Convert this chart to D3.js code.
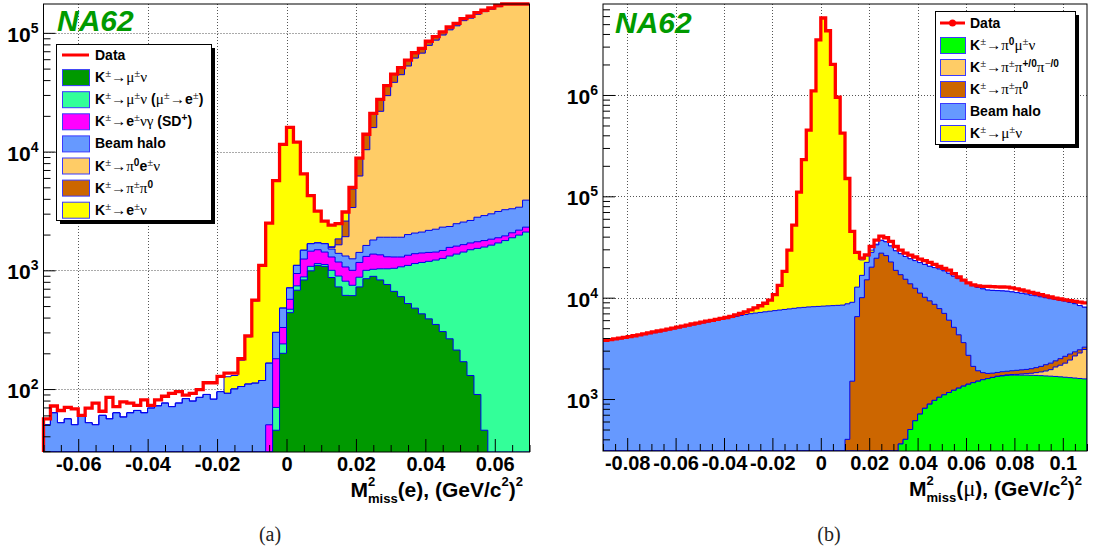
<!DOCTYPE html>
<html>
<head>
<meta charset="utf-8">
<script src="https://cdn.jsdelivr.net/npm/d3@7"></script>
<style>
  body { margin: 0; background: #fff; }
  svg { display: block; }
</style>
</head>
<body>
<svg id="chart" width="1096" height="554"></svg>
<script>
// NA62 missing-mass plots, (a) electron hypothesis, (b) muon hypothesis.
// Stacked MC components (ROOT-like filled histograms) with data on top.

// ---------- panel (a): M2miss(e), 70 bins of 0.002 from -0.07 ----------
const aRange = [-0.07, 0.07];
const aBinWidth = 0.002;
const aYRange = [29.5, 175000];

const aData = [
  56, 72, 66, 70, 68, 60, 69, 76, 65, 85,
  71, 78, 76, 73, 81, 73, 81, 87, 92, 95,
  89, 92, 99, 113, 113, 128, 136, 136, 180, 280,
  560, 1100, 2500, 5700, 11500, 16000, 12000, 6500, 4250, 3150,
  2600, 2400, 2470, 3100, 5000, 8800, 14000, 21000, 27500, 36000,
  45000, 51000, 59000, 68000, 74000, 85000, 93000, 102000, 112000, 120000,
  132000, 138000, 148000, 155000, 162000, 170000, 178000, 185000, 192000, 198000
];
// K -> mu nu
const aKmunu = [
  0, 0, 0, 0, 0, 0, 0, 0, 0, 0,
  0, 0, 0, 0, 0, 0, 0, 0, 0, 0,
  0, 0, 0, 0, 0, 0, 0, 0, 0, 0,
  0, 0, 0, 45, 200, 440, 680, 830, 990, 1100,
  1080, 870, 725, 615, 612, 725, 850, 890, 830, 760,
  665, 600, 525, 480, 430, 390, 350, 305, 265, 213,
  170, 130, 90, 45, 0, 0, 0, 0, 0, 0
];
// K -> mu nu (mu -> e)
const aMuToE = [
  0, 0, 0, 0, 0, 0, 0, 0, 0, 0,
  0, 0, 0, 0, 0, 0, 0, 0, 0, 0,
  0, 0, 0, 0, 0, 0, 0, 0, 0, 0,
  0, 0, 0, 25, 40, 30, 60, 50, 90, 40,
  40, 130, 170, 195, 136, 150, 150, 130, 200, 270,
  375, 470, 575, 660, 735, 800, 870, 955, 1055, 1157,
  1255, 1360, 1440, 1525, 1630, 1700, 1780, 1880, 1980, 2100
];
// K -> e nu gamma (SD+)
const aSD = [
  0, 0, 0, 0, 0, 0, 0, 0, 0, 0,
  0, 0, 0, 0, 0, 0, 0, 0, 0, 0,
  0, 0, 0, 0, 0, 0, 0, 0, 0, 0,
  0, 0, 50, 110, 90, 100, 200, 365, 370, 350,
  305, 295, 280, 257, 252, 290, 310, 350, 320, 270,
  255, 225, 240, 240, 235, 225, 205, 210, 240, 230,
  220, 210, 210, 210, 200, 180, 170, 190, 200, 210
];
// beam halo
const aHalo = [
  50, 63, 52, 56, 50, 60, 52, 50, 60, 56,
  63, 58, 63, 66, 63, 69, 72, 76, 71, 76,
  83, 79, 85, 90, 82, 95, 92, 100, 105, 110,
  112, 118, 115, 120, 150, 140, 160, 230, 225, 210,
  250, 215, 215, 253, 250, 250, 310, 430, 550, 600,
  605, 605, 660, 680, 700, 755, 795, 840, 780, 870,
  905, 930, 1060, 1110, 1160, 1250, 1290, 1230, 1220, 1590
];
// K -> pi0 e nu
const aPi0enu = [
  0, 0, 0, 0, 0, 0, 0, 0, 0, 0,
  0, 0, 0, 0, 0, 0, 0, 0, 0, 0,
  0, 0, 0, 0, 0, 0, 0, 0, 0, 0,
  0, 0, 0, 0, 0, 0, 0, 0, 0, 0,
  0, 50, 250, 600, 2130, 4815, 8750, 14130, 19940, 27690,
  36400, 42520, 50580, 59220, 65390, 76290, 84580, 93540, 103660, 112130,
  124150, 130370, 140500, 147900, 155000, 163000, 171000, 178000, 185000, 190600
];
// K -> pi pi0
const aPipi0 = [
  0, 0, 0, 0, 0, 0, 0, 0, 0, 0,
  0, 0, 0, 0, 0, 0, 0, 0, 0, 0,
  0, 0, 0, 0, 0, 0, 0, 0, 0, 0,
  0, 0, 0, 0, 0, 0, 0, 0, 0, 0,
  0, 20, 200, 680, 1470, 2570, 3630, 5070, 5660, 6410,
  6700, 6580, 6420, 6720, 6510, 6540, 6200, 6150, 6000, 5400,
  5300, 5000, 4700, 4200, 4000, 3900, 3760, 3700, 3600, 3500
];
// K -> e nu
const aEnu = [
  0, 0, 0, 0, 0, 0, 0, 0, 0, 0,
  0, 0, 0, 0, 0, 0, 0, 0, 0, 0,
  0, 0, 0, 0, 0, 0, 35, 30, 70, 165,
  440, 980, 2335, 5400, 11020, 15290, 10900, 5025, 2575, 1450,
  925, 820, 630, 500, 150, 0, 0, 0, 0, 0,
  0, 0, 0, 0, 0, 0, 0, 0, 0, 0,
  0, 0, 0, 0, 0, 0, 0, 0, 0, 0
];
const aLabels = [
  "Data",
  "K^{±}→μ^{±}ν",
  "K^{±}→μ^{±}ν (μ^{±}→e^{±})",
  "K^{±}→e^{±}νγ (SD^{+})",
  "Beam halo",
  "K^{±}→π^{0}e^{±}ν",
  "K^{±}→π^{±}π^{0}",
  "K^{±}→e^{±}ν"
];

// ---------- panel (b): M2miss(mu), 100 bins of 0.002 from -0.09 ----------
const bRange = [-0.09, 0.11];
const bBinWidth = 0.002;
const bYRange = [307, 7.9e6];

const bData = [
  3800, 3860, 3930, 3990, 4060, 4120, 4210, 4300, 4400, 4490,
  4590, 4690, 4790, 4900, 5010, 5130, 5250, 5370, 5500, 5620,
  5740, 5860, 5980, 6110, 6240, 6370, 6530, 6760, 7000, 7240,
  7590, 7940, 8320, 8810, 9440, 10700, 13200, 18200, 29500, 52000,
  110000, 230000, 450000, 1100000, 3500000, 5750000, 4300000, 2000000, 950000, 420000,
  150000, 45000, 28000, 24600, 26500, 32000, 37000, 40500, 39000, 36000,
  32000, 29500, 27500, 26300, 25200, 24000, 23200, 22300, 21300, 20300,
  19500, 18700, 17300, 16000, 14900, 14000, 13400, 13100, 12950, 12900,
  12850, 12800, 12750, 12700, 12500, 12200, 11900, 11600, 11300, 11000,
  10700, 10400, 10150, 9900, 9700, 9500, 9350, 9200, 9050, 8900
];
// K -> pi0 mu nu
const bPi0munu = [
  0, 0, 0, 0, 0, 0, 0, 0, 0, 0,
  0, 0, 0, 0, 0, 0, 0, 0, 0, 0,
  0, 0, 0, 0, 0, 0, 0, 0, 0, 0,
  0, 0, 0, 0, 0, 0, 0, 0, 0, 0,
  0, 0, 0, 0, 0, 0, 0, 0, 0, 0,
  0, 0, 0, 0, 0, 0, 0, 0, 0, 0,
  0, 360, 400, 500, 610, 710, 810, 890, 970, 1040,
  1100, 1160, 1220, 1280, 1340, 1400, 1450, 1500, 1550, 1590,
  1630, 1670, 1690, 1710, 1720, 1720, 1720, 1720, 1715, 1710,
  1700, 1690, 1680, 1670, 1655, 1640, 1625, 1610, 1595, 1580
];
// K -> pi pi pi
const bPipipi = [
  0, 0, 0, 0, 0, 0, 0, 0, 0, 0,
  0, 0, 0, 0, 0, 0, 0, 0, 0, 0,
  0, 0, 0, 0, 0, 0, 0, 0, 0, 0,
  0, 0, 0, 0, 0, 0, 0, 0, 0, 0,
  0, 0, 0, 0, 0, 0, 0, 0, 0, 0,
  0, 0, 0, 0, 0, 0, 0, 0, 0, 0,
  0, 0, 0, 0, 0, 0, 0, 0, 0, 0,
  0, 0, 0, 0, 0, 0, 0, 0, 0, 0,
  5, 10, 15, 20, 25, 30, 45, 60, 80, 110,
  150, 200, 270, 400, 500, 620, 800, 1050, 1250, 1500
];
// K -> pi pi0
const bPipi0 = [
  0, 0, 0, 0, 0, 0, 0, 0, 0, 0,
  0, 0, 0, 0, 0, 0, 0, 0, 0, 0,
  0, 0, 0, 0, 0, 0, 0, 0, 0, 0,
  0, 0, 0, 0, 0, 0, 0, 0, 0, 0,
  0, 0, 0, 0, 0, 0, 0, 0, 0, 0,
  400, 1500, 6500, 10000, 15000, 20000, 24500, 27500, 26000, 22500,
  18600, 16500, 14800, 13200, 11790, 10390, 9290, 8410, 7630, 6760,
  5900, 4840, 3880, 3020, 2260, 1300, 650, 400, 270, 200,
  165, 150, 155, 150, 155, 170, 175, 180, 195, 220,
  250, 290, 310, 310, 345, 380, 355, 260, 215, 170
];
// beam halo
const bHalo = [
  3720, 3790, 3860, 3920, 3990, 4050, 4140, 4230, 4320, 4410,
  4500, 4600, 4700, 4810, 4920, 5030, 5150, 5270, 5390, 5510,
  5630, 5740, 5860, 5980, 6100, 6220, 6360, 6520, 6680, 6820,
  6950, 7050, 7150, 7250, 7350, 7450, 7550, 7650, 7750, 7850,
  7950, 8020, 8100, 8150, 8200, 8250, 8300, 8350, 8400, 8450,
  8300, 7500, 6200, 6600, 7300, 8000, 8700, 9300, 9600, 9900,
  10400, 10300, 10300, 10500, 10800, 11100, 11200, 11100, 11200, 11400,
  11400, 11400, 11200, 11100, 11300, 11200, 11000, 10700, 10400, 10100,
  10000, 9900, 9800, 9700, 9500, 9300, 9100, 8900, 8600, 8400,
  8100, 7800, 7500, 7200, 6900, 6600, 6200, 5800, 5300, 4800
];
// K -> mu nu
const bMunu = [
  0, 0, 0, 0, 0, 0, 0, 0, 0, 0,
  0, 0, 0, 0, 0, 0, 0, 0, 0, 0,
  0, 0, 0, 0, 0, 0, 0, 150, 320, 420,
  640, 890, 1170, 1560, 2090, 3250, 5650, 10550, 21750, 44150,
  102050, 221980, 441900, 1091850, 3491800, 5741750, 4291700, 1991650, 941600, 411550,
  141200, 36000, 15300, 7000, 3500, 1500, 500, 0, 0, 0,
  0, 0, 0, 0, 0, 0, 0, 0, 0, 0,
  0, 0, 0, 0, 0, 0, 0, 0, 0, 0,
  0, 0, 0, 0, 0, 0, 0, 0, 0, 0,
  0, 0, 0, 0, 0, 0, 0, 0, 0, 0
];
const bLabels = [
  "Data",
  "K^{±}→π^{0}μ^{±}ν",
  "K^{±}→π^{±}π^{+/0}π^{−/0}",
  "K^{±}→π^{±}π^{0}",
  "Beam halo",
  "K^{±}→μ^{±}ν"
];

// ---------- styles ----------
const FONT = "'Liberation Sans', Arial, Helvetica, sans-serif";
const SERIF = "'Liberation Serif', 'Times New Roman', serif";
const COLOR_DATA = "#ff0000";
const COLOR_OUTLINE = "#0000ee";
const COLOR_NA62 = "#009a00";
const SYMBOL_CHARS = "±→μνπγ−";

const svg = d3.select("#chart");

// Text with ^{..} / _{..} runs; greek letters and arrows set like ROOT's symbol font.
const richText = (parent, markup, opt) => {
  const tokens = [];
  for (let i = 0; i < markup.length;) {
    const head = markup.slice(i, i + 2);
    if (head === "^{" || head === "_{") {
      const j = markup.indexOf("}", i);
      const mode = head[0] === "^" ? "sup" : "sub";
      for (const ch of markup.slice(i + 2, j)) tokens.push({ ch, mode });
      i = j + 1;
    } else {
      tokens.push({ ch: markup[i], mode: "base" });
      i++;
    }
  }
  const groups = [];
  tokens.forEach((t) => {
    const sym = SYMBOL_CHARS.includes(t.ch);
    const last = groups[groups.length - 1];
    if (last && last.mode === t.mode && last.sym === sym) last.text += t.ch;
    else groups.push({ text: t.ch, mode: t.mode, sym });
  });

  const text = parent.append("text")
    .attr("x", opt.x)
    .attr("y", opt.y)
    .attr("text-anchor", opt.anchor || "start")
    .attr("font-family", FONT)
    .attr("fill", "#000");

  let shift = 0;
  let prev = null;
  groups.forEach((gr) => {
    const target = gr.mode === "sup" ? -opt.supShift : gr.mode === "sub" ? opt.subShift : 0;
    const size = (gr.mode === "base" ? opt.size : opt.size * opt.scale) * (gr.sym ? 1.08 : 1);
    const ts = text.append("tspan")
      .attr("font-size", size)
      .attr("font-weight", gr.sym ? "normal" : "bold")
      .attr("font-family", gr.sym ? SERIF : FONT)
      .attr("dy", target - shift)
      .text(gr.text);
    if (gr.mode === "sub" && prev && prev.mode === "sup") ts.attr("dx", -prev.width);
    gr.width = ts.node().getComputedTextLength();
    shift = target;
    prev = gr;
  });
  return text;
};

const drawPanel = (p) => {
  const g = svg.append("g");
  const n = p.series[0].length;

  const x = d3.scaleLinear().domain(p.xDomain).range([p.left, p.right]);
  const y = d3.scaleLog().domain(p.yDomain).range([p.bottom, p.top]).clamp(true);
  const yv = (v) => y(Math.max(v, p.yDomain[0] * 0.5));
  const edges = d3.range(n + 1).map((i) => p.xDomain[0] + i * p.binWidth);

  const clipId = "clip-" + p.id;
  g.append("clipPath").attr("id", clipId)
    .append("rect")
    .attr("x", p.left).attr("y", p.top)
    .attr("width", p.right - p.left).attr("height", p.bottom - p.top);

  // grid (dotted), drawn first so fills hide it
  const decades = d3.range(Math.ceil(Math.log10(p.yDomain[0])), Math.floor(Math.log10(p.yDomain[1])) + 1)
    .map((e) => Math.pow(10, e));
  const grid = g.append("g")
    .attr("stroke", "#555")
    .attr("stroke-width", 1)
    .attr("stroke-dasharray", "1,2");
  grid.selectAll("line.gx").data(p.xMajor).join("line")
    .attr("class", "gx")
    .attr("x1", (d) => Math.round(x(d)) + 0.5).attr("x2", (d) => Math.round(x(d)) + 0.5)
    .attr("y1", p.top).attr("y2", p.bottom);
  grid.selectAll("line.gy").data(decades).join("line")
    .attr("class", "gy")
    .attr("x1", p.left).attr("x2", p.right)
    .attr("y1", (d) => Math.round(y(d)) + 0.5).attr("y2", (d) => Math.round(y(d)) + 0.5);

  // stacked MC
  const rows = d3.range(n).map((i) => {
    const r = {};
    p.keys.forEach((k, j) => { r[k] = p.series[j][i]; });
    return r;
  });
  const stacked = d3.stack().keys(p.keys)(rows);

  const area = d3.area().curve(d3.curveStepAfter)
    .x((d) => x(d.x)).y0(p.bottom).y1((d) => yv(d.v));
  const step = d3.line().curve(d3.curveStepAfter)
    .x((d) => x(d.x)).y((d) => yv(d.v));

  const fills = g.append("g").attr("clip-path", "url(#" + clipId + ")");
  // ROOT THStack order: topmost cumulative first, lower ones painted over it
  stacked.slice().reverse().forEach((layer) => {
    const j = p.keys.indexOf(layer.key);
    const pts = layer.map((d, i) => ({ x: edges[i], v: d[1] }));
    pts.push({ x: edges[n], v: layer[n - 1][1] });
    fills.append("path")
      .attr("d", area(pts))
      .attr("fill", p.colors[j]);
    const outline = [{ x: edges[0], v: 0 }, ...pts, { x: edges[n], v: 0 }];
    fills.append("path")
      .attr("d", step(outline))
      .attr("fill", "none")
      .attr("stroke", COLOR_OUTLINE)
      .attr("stroke-width", 1);
  });

  // data
  const dataPts = p.data.map((v, i) => ({ x: edges[i], v }));
  dataPts.push({ x: edges[n], v: p.data[n - 1] });
  if (p.dataFromFloor) dataPts.unshift({ x: edges[0], v: 0 });
  g.append("path")
    .attr("d", step(dataPts))
    .attr("fill", "none")
    .attr("stroke", COLOR_DATA)
    .attr("stroke-width", 3.3)
    .attr("stroke-linejoin", "miter");

  // axes, ticks pointing into the frame
  const fmtX = (d) => (d === 0 ? "0" : String(Math.round(d * 100) / 100));
  const xMinor = d3.range(Math.round(p.xDomain[0] / 0.005), Math.round(p.xDomain[1] / 0.005) + 1)
    .filter((k) => k % 4 !== 0).map((k) => k * 0.005);

  g.append("g")
    .attr("transform", "translate(0," + p.bottom + ")")
    .call(d3.axisBottom(x).tickValues(xMinor).tickSizeInner(-7).tickSizeOuter(0).tickFormat(""))
    .call((a) => a.select(".domain").remove());
  g.append("g")
    .attr("transform", "translate(0," + p.bottom + ")")
    .call(d3.axisBottom(x).tickValues(p.xMajor).tickSizeInner(-13).tickSizeOuter(0).tickPadding(5).tickFormat(fmtX))
    .call((a) => a.select(".domain").remove())
    .attr("font-family", FONT)
    .attr("font-size", 20)
    .attr("font-weight", "bold")
    .call((a) => a.selectAll("text").attr("fill", "#000"));

  const yMinor = [];
  decades.concat([decades[0] / 10]).forEach((d) => {
    d3.range(2, 10).forEach((m) => {
      const v = m * d;
      if (v > p.yDomain[0] && v < p.yDomain[1]) yMinor.push(v);
    });
  });
  g.append("g")
    .attr("transform", "translate(" + p.left + ",0)")
    .call(d3.axisLeft(y).tickValues(yMinor).tickSizeInner(-7).tickSizeOuter(0).tickFormat(""))
    .call((a) => a.select(".domain").remove());
  g.append("g")
    .attr("transform", "translate(" + p.left + ",0)")
    .call(d3.axisLeft(y).tickValues(decades).tickSizeInner(-12).tickSizeOuter(0).tickFormat(""))
    .call((a) => a.select(".domain").remove());

  decades.forEach((d) => {
    const t = g.append("text")
      .attr("x", p.left - 5)
      .attr("y", y(d) + 9)
      .attr("text-anchor", "end")
      .attr("font-family", FONT)
      .attr("font-weight", "bold")
      .attr("fill", "#000");
    t.append("tspan").attr("font-size", 21).text("10");
    t.append("tspan").attr("font-size", 14).attr("dy", -9).text(String(Math.round(Math.log10(d))));
  });

  // frame
  g.append("rect")
    .attr("x", p.left).attr("y", p.top)
    .attr("width", p.right - p.left).attr("height", p.bottom - p.top)
    .attr("fill", "none")
    .attr("stroke", "#000")
    .attr("stroke-width", 1);

  // NA62 tag
  g.append("text")
    .attr("x", p.tag[0]).attr("y", p.tag[1])
    .attr("font-family", FONT)
    .attr("font-size", 30)
    .attr("font-weight", "bold")
    .attr("font-style", "italic")
    .attr("fill", COLOR_NA62)
    .text("NA62");

  // axis title
  richText(g, p.title, {
    x: p.titlePos[0], y: p.titlePos[1], anchor: "end",
    size: 21, scale: 0.62, supShift: 11, subShift: 6
  });

  // caption
  g.append("text")
    .attr("x", p.caption[0]).attr("y", p.caption[1])
    .attr("text-anchor", "middle")
    .attr("font-family", SERIF)
    .attr("font-size", 20)
    .attr("fill", "#222")
    .text(p.captionText);

  // legend
  const L = p.legend;
  const lg = g.append("g");
  lg.append("rect")
    .attr("x", L.x + 4).attr("y", L.y + 4)
    .attr("width", L.w).attr("height", L.h)
    .attr("fill", "#000");
  lg.append("rect")
    .attr("x", L.x + 0.5).attr("y", L.y + 0.5)
    .attr("width", L.w).attr("height", L.h)
    .attr("fill", "#fff")
    .attr("stroke", "#000")
    .attr("stroke-width", 1);

  p.labels.forEach((label, i) => {
    const cy = L.rowTop + i * L.pitch;
    if (i === 0) {
      lg.append("line")
        .attr("x1", L.swX).attr("x2", L.swX + L.swW)
        .attr("y1", cy).attr("y2", cy)
        .attr("stroke", COLOR_DATA)
        .attr("stroke-width", 3);
      if (L.marker) {
        lg.append("circle")
          .attr("cx", L.swX + L.swW / 2).attr("cy", cy).attr("r", 3.5)
          .attr("fill", COLOR_DATA);
      }
    } else {
      lg.append("rect")
        .attr("x", L.swX + 0.5).attr("y", cy - 8 + 0.5)
        .attr("width", L.swW).attr("height", 16)
        .attr("fill", p.colors[i - 1])
        .attr("stroke", "#3a3aff")
        .attr("stroke-width", 1);
    }
    richText(lg, label, {
      x: L.textX, y: cy + 5, size: 14, scale: 0.72, supShift: 5, subShift: 3
    });
  });
};

drawPanel({
  id: "a",
  left: 43.5, right: 529.5, top: 4, bottom: 452,
  xDomain: aRange, binWidth: aBinWidth, yDomain: aYRange,
  xMajor: [-0.06, -0.04, -0.02, 0, 0.02, 0.04, 0.06],
  keys: ["kmunu", "mutoe", "sd", "halo", "pi0enu", "pipi0", "enu"],
  series: [aKmunu, aMuToE, aSD, aHalo, aPi0enu, aPipi0, aEnu],
  colors: ["#009900", "#33ff99", "#ff00ff", "#6699ff", "#ffcc66", "#cc6600", "#ffff00"],
  data: aData, dataFromFloor: true,
  labels: aLabels,
  tag: [57, 31],
  title: "M^{2}_{miss}(e), (GeV/c^{2})^{2}",
  titlePos: [523, 497],
  caption: [270, 541], captionText: "(a)",
  legend: { x: 56, y: 44, w: 155, h: 176, rowTop: 55, pitch: 22.1, swX: 62, swW: 27, textX: 95, marker: false }
});

drawPanel({
  id: "b",
  left: 603, right: 1087, top: 4, bottom: 451,
  xDomain: bRange, binWidth: bBinWidth, yDomain: bYRange,
  xMajor: [-0.08, -0.06, -0.04, -0.02, 0, 0.02, 0.04, 0.06, 0.08, 0.1],
  keys: ["pi0munu", "pipipi", "pipi0", "halo", "munu"],
  series: [bPi0munu, bPipipi, bPipi0, bHalo, bMunu],
  colors: ["#00ff00", "#ffcc66", "#cc6600", "#6699ff", "#ffff00"],
  data: bData, dataFromFloor: false,
  labels: bLabels,
  tag: [615, 33],
  title: "M^{2}_{miss}(μ), (GeV/c^{2})^{2}",
  titlePos: [1082, 496],
  caption: [829, 541], captionText: "(b)",
  legend: { x: 935, y: 11, w: 140, h: 133, rowTop: 23, pitch: 22, swX: 940, swW: 25, textX: 970, marker: true }
});
</script>
</body>
</html>
